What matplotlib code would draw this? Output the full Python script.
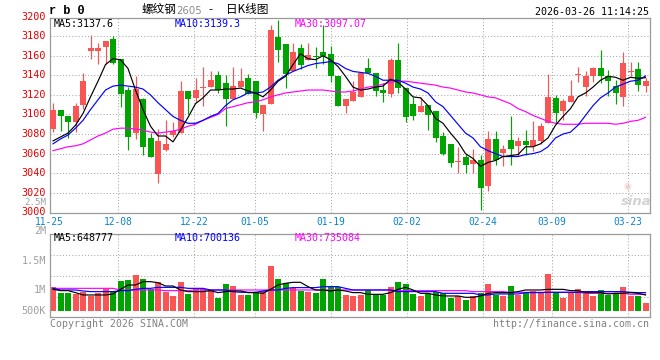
import matplotlib
matplotlib.use('Agg')
import matplotlib.pyplot as plt

# ---------------- data ----------------
date_labels = ['11-25', '12-08', '12-22', '01-05', '01-19', '02-02', '02-24', '03-09', '03-23']
date_index = [0, 9, 19, 27, 37, 47, 57, 66, 76]

opens = [3085, 3105, 3098, 3092, 3110, 3165, 3165, 3169, 3177, 3157,
         3125, 3081, 3116, 3076, 3039, 3064, 3079, 3081, 3124, 3117,
         3127, 3128, 3140, 3132, 3116, 3128, 3137, 3134, 3101, 3111,
         3179, 3172, 3144, 3168, 3156, 3160, 3164, 3162, 3139, 3109,
         3114, 3118, 3147, 3142, 3125, 3121, 3156, 3127, 3111, 3103,
         3110, 3104, 3078, 3070, 3051, 3057, 3049, 3053, 3027, 3075,
         3061, 3074, 3068, 3073, 3068, 3073, 3091, 3117, 3104, 3113,
         3140, 3128, 3139, 3147, 3139, 3129, 3118, 3143, 3146, 3129]
closes = [3105, 3098, 3092, 3109, 3134, 3168, 3168, 3175, 3153, 3121,
          3077, 3126, 3067, 3057, 3073, 3070, 3083, 3124, 3116, 3125,
          3128, 3135, 3125, 3116, 3129, 3134, 3121, 3102, 3110, 3186,
          3166, 3141, 3164, 3151, 3161, 3159, 3160, 3139, 3109, 3116,
          3123, 3142, 3142, 3124, 3122, 3156, 3127, 3097, 3098, 3109,
          3099, 3076, 3060, 3050, 3052, 3048, 3053, 3025, 3075, 3053,
          3065, 3065, 3073, 3069, 3074, 3088, 3118, 3102, 3114, 3119,
          3141, 3139, 3148, 3139, 3134, 3122, 3153, 3144, 3130, 3134]
highs = [3112, 3105, 3098, 3112, 3142, 3181, 3173, 3175, 3180, 3157,
         3128, 3139, 3117, 3081, 3085, 3094, 3092, 3134, 3124, 3137,
         3149, 3144, 3144, 3140, 3149, 3147, 3141, 3134, 3110, 3191,
         3197, 3172, 3173, 3172, 3173, 3169, 3191, 3170, 3139, 3116,
         3134, 3142, 3158, 3142, 3132, 3158, 3173, 3127, 3118, 3118,
         3110, 3104, 3082, 3070, 3067, 3060, 3065, 3059, 3083, 3083,
         3069, 3098, 3077, 3084, 3093, 3091, 3141, 3120, 3116, 3135,
         3149, 3144, 3149, 3166, 3145, 3135, 3164, 3154, 3154, 3137]
lows = [3082, 3083, 3076, 3082, 3106, 3157, 3152, 3152, 3152, 3108,
        3064, 3075, 3059, 3057, 3030, 3063, 3077, 3081, 3101, 3113,
        3109, 3128, 3122, 3088, 3116, 3128, 3121, 3096, 3083, 3111,
        3154, 3127, 3144, 3146, 3156, 3147, 3152, 3133, 3109, 3102,
        3114, 3118, 3142, 3119, 3113, 3118, 3122, 3092, 3094, 3103,
        3084, 3072, 3059, 3046, 3040, 3040, 3040, 3002, 3022, 3048,
        3047, 3048, 3058, 3059, 3063, 3070, 3091, 3091, 3094, 3113,
        3133, 3119, 3133, 3132, 3119, 3111, 3109, 3139, 3124, 3123]

ma5 = [3073, 3077, 3081, 3089, 3101, 3118, 3134, 3151, 3157, 3156,
       3147, 3125, 3105, 3088, 3078, 3078, 3072, 3084, 3097, 3111,
       3117, 3125, 3125, 3126, 3126, 3127, 3124, 3122, 3118, 3125,
       3134, 3139, 3151, 3162, 3157, 3156, 3160, 3156, 3149, 3139,
       3128, 3125, 3126, 3128, 3129, 3136, 3133, 3126, 3118, 3117,
       3109, 3096, 3091, 3081, 3072, 3060, 3055, 3047, 3051, 3053,
       3057, 3058, 3059, 3067, 3067, 3070, 3076, 3089, 3098, 3106,
       3118, 3122, 3128, 3135, 3139, 3138, 3135, 3138, 3137, 3137.6]
ma10 = [3070, 3075, 3079, 3086, 3094, 3105, 3115, 3125, 3129, 3130,
        3129, 3128, 3126, 3120, 3112, 3105, 3098, 3094, 3091, 3091,
        3094, 3098, 3101, 3109, 3115, 3118, 3122, 3122, 3123, 3128,
        3135, 3140, 3144, 3147, 3150, 3152, 3153, 3154, 3152, 3147,
        3144, 3143, 3142, 3139, 3135, 3135, 3135, 3132, 3128, 3126,
        3122, 3113, 3108, 3099, 3090, 3081, 3076, 3067, 3063, 3060,
        3057, 3057, 3057, 3059, 3060, 3062, 3067, 3076, 3080, 3082,
        3089, 3099, 3109, 3117, 3122, 3128, 3131, 3134, 3135, 3139.3]
ma30 = [3063, 3065, 3067, 3068, 3070, 3074, 3078, 3081, 3085, 3086,
        3086, 3085, 3084, 3082, 3081, 3082, 3083, 3085, 3088, 3090,
        3094, 3097, 3100, 3106, 3108, 3110, 3112, 3113, 3115, 3118,
        3120, 3122, 3123, 3124, 3125, 3125, 3125, 3124, 3123, 3123,
        3124, 3126, 3128, 3129, 3131, 3133, 3134, 3134, 3133, 3132,
        3131, 3130, 3128, 3127, 3125, 3123, 3122, 3120, 3118, 3117,
        3114, 3111, 3106, 3103, 3099, 3096, 3093, 3091, 3090, 3090,
        3090, 3091, 3091, 3091, 3091, 3090, 3091, 3093, 3094, 3097.07]

# volume in thousands of lots
volume_k = [1045, 955, 955, 932, 972, 898, 955, 1011, 983, 1159,
            1171, 1256, 1188, 1011, 1142, 972, 898, 1142, 932, 1011,
            1011, 1000, 869, 1102, 1068, 915, 915, 955, 983, 1410,
            1188, 1114, 1028, 983, 966, 955, 1188, 1057, 1057, 915,
            903, 915, 1000, 932, 915, 1057, 1142, 1102, 932, 898,
            932, 972, 943, 869, 898, 829, 898, 955, 1102, 915,
            898, 1068, 915, 943, 989, 971, 1273, 971, 869, 943,
            1011, 943, 898, 1000, 915, 926, 1051, 903, 903, 773]
vma5_k = [1011, 989, 989, 955, 915, 915, 915, 915, 932, 1011,
          1085, 1085, 1142, 1142, 1125, 1068, 1068, 1000, 972, 972,
          972, 989, 955, 972, 983, 983, 955, 955, 943, 1011,
          1085, 1114, 1131, 1131, 1057, 1000, 1000, 983, 1000, 983,
          955, 955, 926, 926, 926, 955, 1011, 1045, 1000, 943,
          943, 915, 898, 898, 898, 875, 875, 898, 943, 955,
          955, 955, 972, 1000, 1000, 1000, 1011, 1011, 1011, 989,
          989, 955, 955, 955, 932, 943, 943, 955, 943, 915]
vma10_k = [1028, 1000, 1000, 1000, 983, 972, 972, 972, 972, 989,
           989, 1011, 1028, 1028, 1045, 1045, 1045, 1045, 1028, 1028,
           1028, 1000, 1000, 1000, 971, 960, 960, 960, 983, 1000,
           1000, 1028, 1040, 1040, 1040, 1040, 1057, 1057, 1057, 1028,
           1000, 1000, 1000, 1000, 1000, 1000, 972, 972, 972, 972,
           972, 972, 943, 943, 943, 943, 943, 915, 915, 932,
           932, 932, 932, 955, 955, 955, 960, 960, 960, 960,
           960, 972, 972, 972, 972, 972, 972, 960, 955, 955]
vma30_k = [1028, 1028, 1028, 1028, 1028, 1028, 1028, 1028, 1028, 1000,
           1000, 1000, 1000, 1000, 1000, 989, 989, 989, 989, 1000,
           1000, 1000, 1000, 1000, 1000, 1000, 1000, 1000, 1000, 1000,
           1000, 1000, 1000, 1000, 1000, 1000, 1000, 1000, 1000, 1000,
           1000, 1000, 1000, 1000, 1000, 1000, 989, 989, 989, 989,
           989, 989, 989, 989, 989, 989, 972, 972, 972, 972,
           972, 960, 960, 960, 960, 960, 960, 960, 960, 960,
           960, 943, 943, 943, 943, 943, 943, 926, 926, 926]

price_ticks = [3000, 3020, 3040, 3060, 3080, 3100, 3120, 3140, 3160, 3180, 3200]
vol_tick_labels = ['2M', '1.5M', '1M', '500K']
vol_tick_values = [2000, 1500, 1000, 650]

for arr in (opens, closes, highs, lows, ma5, ma10, ma30, volume_k, vma5_k, vma10_k, vma30_k):
    assert len(arr) == 80, len(arr)

# ---------------- style ----------------
W, H = 660, 360
RED = '#fa5555'
GREEN = '#00a400'
GRID = '#a8a8a8'
BORDER = '#9a9a9a'
MONO = 'DejaVu Sans Mono'
CJK = ['Noto Sans CJK SC', 'DejaVu Sans']

fig = plt.figure(figsize=(W / 100, H / 100), dpi=100)
fig.patch.set_facecolor('white')


def px_axes(l, t, r, b):
    return fig.add_axes([l / W, 1 - b / H, (r - l) / W, (b - t) / H])


def ftext(x, y, s, **kw):
    fig.text(x / W, 1 - y / H, s, **kw)


ax = px_axes(50, 18.3, 650, 213.3)
axv = px_axes(50, 234.3, 650, 317.3)

n = len(opens)
xs = list(range(n))
grid_x = [k * 1.0143 - 0.467 for k in date_index]

for a in (ax, axv):
    a.set_xlim(-0.4, 79.6)
    a.set_xticks([])
    a.set_yticks([])
    for sp in a.spines.values():
        sp.set_color(BORDER)
        sp.set_linewidth(0.9)
    for gx in grid_x[1:]:
        a.axvline(gx, color=GRID, lw=0.75, ls=(0, (1, 2)), zorder=0)

# ---------------- main price panel ----------------
ax.set_ylim(2999.0, 3198.3)
for p in price_ticks[1:-1]:
    ax.axhline(p, color=GRID, lw=0.75, ls=(0, (1, 2)), zorder=0)

colors = [RED if c >= o else GREEN for o, c in zip(opens, closes)]
ax.vlines(xs, lows, highs, colors=colors, lw=0.85, zorder=2)
bottoms = [min(o, c) for o, c in zip(opens, closes)]
heights = [max(abs(c - o), 1.0) for o, c in zip(opens, closes)]
ax.bar(xs, heights, bottom=bottoms, width=0.8, color=colors, zorder=3, linewidth=0)

ax.plot(xs, ma30, color='#ff00ff', lw=0.85, zorder=4)
ax.plot(xs, ma10, color='#0000ff', lw=0.85, zorder=4)
ax.plot(xs, ma5, color='black', lw=0.85, zorder=4)

for p in price_ticks:
    ax.text(-0.0065, p, str(p), transform=ax.get_yaxis_transform(), ha='right', va='center',
            color='#e60000', fontsize=7.3, family=MONO, clip_on=False)
ax.text(-0.0065, 0.055, '2.5M', transform=ax.transAxes, ha='right', va='center',
        color='#a0a0a0', fontsize=6.6, family=MONO)

for gx, lab in zip(grid_x, date_labels):
    ax.text(gx, -0.043, lab, transform=ax.get_xaxis_transform(), ha='center', va='center',
            color='#0a84d0', fontsize=6.9, family=MONO, clip_on=False)

ax.text(0.0067, 0.971, 'MA5:3137.6', transform=ax.transAxes, ha='left', va='center',
        color='black', fontsize=7.2, family=MONO)
ax.text(0.2083, 0.971, 'MA10:3139.3', transform=ax.transAxes, ha='left', va='center',
        color='#0000ff', fontsize=7.2, family=MONO)
ax.text(0.4083, 0.971, 'MA30:3097.07', transform=ax.transAxes, ha='left', va='center',
        color='#ff00ff', fontsize=7.2, family=MONO)

# sina watermark
ax.text(0.962, 0.135, '◉', transform=ax.transAxes, ha='center', va='center',
        color='#f0cccc', fontsize=6.5, family='DejaVu Sans')
ax.text(0.977, 0.062, 'sina', transform=ax.transAxes, ha='center', va='center',
        color='#d2d2d2', fontsize=9.5, style='italic', weight='bold', family='DejaVu Sans')

# ---------------- volume panel ----------------
vlo, vhi = 534, 1950
axv.set_ylim(vlo, vhi)
for f in (0.25, 0.5, 0.75):
    axv.axhline(vlo + f * (vhi - vlo), color=GRID, lw=0.75, ls=(0, (1, 2)), zorder=0)

base = 647
axv.bar(xs, [v - base for v in volume_k], bottom=base, width=0.8, color=colors, linewidth=0, zorder=2)
axv.plot(xs, vma30_k, color='#ff00ff', lw=0.85, zorder=3)
axv.plot(xs, vma10_k, color='#0000ff', lw=0.85, zorder=3)
axv.plot(xs, vma5_k, color='black', lw=0.85, zorder=4)

for lab, v in zip(vol_tick_labels, vol_tick_values):
    axv.text(-0.0065, v, lab, transform=axv.get_yaxis_transform(), ha='right', va='center',
             color='#a0a0a0', fontsize=7.3, family=MONO, clip_on=False)

axv.text(0.0067, 0.952, 'MA5:648777', transform=axv.transAxes, ha='left', va='center',
         color='black', fontsize=7.2, family=MONO)
axv.text(0.2083, 0.952, 'MA10:700136', transform=axv.transAxes, ha='left', va='center',
         color='#0000ff', fontsize=7.2, family=MONO)
axv.text(0.4083, 0.952, 'MA30:735084', transform=axv.transAxes, ha='left', va='center',
         color='#ff00ff', fontsize=7.2, family=MONO)

# ---------------- header / footer ----------------
ftext(49, 11.5, 'r b 0', ha='left', va='center', family='Liberation Mono', weight='bold', fontsize=8.6)
ftext(141.5, 9.5, '螺纹钢', ha='left', va='center', family=CJK, fontsize=8.4)
ftext(176.5, 10.5, '2605', ha='left', va='center', family='DejaVu Sans', color='#8a8a8a', fontsize=7.3)
ftext(210, 9.5, '-', ha='center', va='center', family='DejaVu Sans', fontsize=8)
ftext(226.5, 9.5, '日K线图', ha='left', va='center', family=CJK, fontsize=8.4)
ftext(649.3, 11.7, '2026-03-26 11:14:25', ha='right', va='center', family=MONO, fontsize=7.2)

ftext(50, 323.7, 'Copyright 2026 SINA.COM', ha='left', va='center', family=MONO,
      color='#808080', fontsize=7.1)
ftext(649.3, 323.7, 'http://finance.sina.com.cn', ha='right', va='center', family=MONO,
      color='#808080', fontsize=7.1)

fig.savefig('out.png', dpi=100, facecolor='white')
